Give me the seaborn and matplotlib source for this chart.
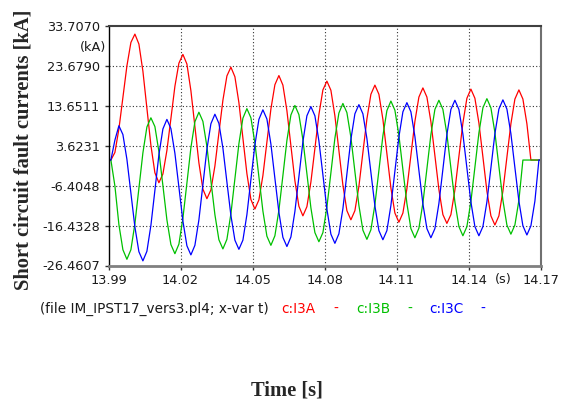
import numpy as np
import pandas as pd
import matplotlib
matplotlib.use("Agg")
import matplotlib.pyplot as plt
import seaborn as sns

# phase currents in kA, one sample every 1/600 s
i3a = [0, 0, 1.9, 7.8, 15.7, 23.6, 29.5, 31.6, 29.1, 22.3, 13.0, 3.7, -3.2, -5.7,
       -3.5, 2.4, 10.4, 18.5, 24.3, 26.5, 24.1, 17.4, 8.4, -0.7, -7.3, -9.7,
       -7.5, -1.5, 6.8, 15.0, 21.1, 23.3, 20.9, 14.4, 5.5, -3.4, -9.9, -12.3,
       -10.0, -3.9, 4.5, 12.8, 18.9, 21.2, 18.8, 12.4, 3.6, -5.2, -11.6, -14.0,
       -11.7, -5.5, 2.9, 11.4, 17.6, 19.8, 17.5, 11.1, 2.4, -6.3, -12.7, -15.0,
       -12.7, -6.6, 1.9, 10.3, 16.5, 18.8, 16.5, 10.2, 1.6, -7.0, -13.3, -15.6,
       -13.3, -7.2, 1.2, 9.7, 15.8, 18.1, 15.8, 9.6, 1.1, -7.4, -13.7, -15.9,
       -13.7, -7.5, 0.9, 9.3, 15.5, 17.8, 15.5, 9.3, 0.8, -7.8, -14.0, -16.3,
       -14.0, -7.8, 0.7, 9.1, 15.3, 17.6, 15.3, 9.1, 0.0, 0, 0, 0]
i3b = [0, 0, -6.5, -16.2, -22.5, -24.9, -22.5, -16.0, -7.1, 1.8, 8.3, 10.6, 8.4, 2.1,
       -6.4, -15.0, -21.2, -23.5, -21.1, -14.6, -5.8, 3.1, 9.6, 12.0, 9.7, 3.4,
       -5.2, -13.7, -20.0, -22.3, -19.9, -13.5, -4.7, 4.1, 10.5, 12.9, 10.6, 4.3,
       -4.2, -12.8, -19.1, -21.4, -19.0, -12.6, -3.9, 4.9, 11.3, 13.7, 11.4, 5.1,
       -3.4, -12.0, -18.2, -20.5, -18.2, -11.8, -3.2, 5.5, 11.8, 14.2, 11.9, 5.7,
       -2.9, -11.4, -17.6, -19.9, -17.5, -11.2, -2.6, 6.1, 12.4, 14.8, 12.5, 6.2,
       -2.4, -10.9, -17.2, -19.5, -17.1, -10.8, -2.2, 6.4, 12.7, 15.0, 12.7, 6.5,
       -2.0, -10.5, -16.7, -19.0, -16.7, -10.4, -1.8, 6.8, 13.1, 15.4, 13.1, 6.9,
       -1.6, -10.1, -16.3, -18.6, -16.3, -10.1, 0.0, 0, 0, 0, 0, 0]
i3c = [0, 0, 5.0, 8.6, 6.4, 0.2, -8.3, -16.8, -23.0, -25.3, -22.9, -16.4, -7.6, 1.3,
       7.8, 10.2, 7.9, 1.7, -6.8, -15.3, -21.5, -23.8, -21.4, -15.0, -6.2, 2.7,
       9.1, 11.5, 9.2, 3.0, -5.5, -13.9, -20.1, -22.4, -20.1, -13.7, -4.9, 3.8,
       10.2, 12.6, 10.3, 4.0, -4.6, -13.1, -19.4, -21.7, -19.3, -12.9, -4.2, 4.6,
       11.1, 13.4, 11.1, 4.8, -3.7, -12.3, -18.6, -20.9, -18.5, -12.2, -3.5, 5.2,
       11.6, 13.9, 11.6, 5.4, -3.1, -11.5, -17.7, -20.0, -17.7, -11.4, -2.8, 5.8,
       12.1, 14.4, 12.1, 5.9, -2.6, -11.0, -17.2, -19.5, -17.2, -10.9, -2.3, 6.4,
       12.7, 15.0, 12.7, 6.5, -2.0, -10.5, -16.7, -19.0, -16.7, -10.5, -2.0, 6.6,
       12.8, 15.1, 12.8, 6.6, -1.9, -10.3, -16.5, -18.8, -16.5, -10.3, 0.0, 0]

t_first = 13.991 - 1 / 600
dt = 1 / 600

signals = ["c:I3A", "c:I3B", "c:I3C"]
colors = ["#ff0000", "#00c000", "#0000ff"]
y_ticks = [33.7070, 23.6790, 13.6511, 3.6231, -6.4048, -16.4328, -26.4607]
x_ticks = [13.99, 14.02, 14.05, 14.08, 14.11, 14.14, 14.17]

t = t_first + dt * np.arange(len(i3a))
df = pd.DataFrame({
    "t": np.tile(t, 3),
    "I": i3a + i3b + i3c,
    "sig": np.repeat(signals, len(t)),
})

sns.set_style("white")
plt.rcParams["font.family"] = ["DejaVu Sans"]

W, H = 568, 403
fig = plt.figure(figsize=(W / 100, H / 100), dpi=100)
ax = fig.add_axes([108.5 / W, 1 - 265.5 / H, 432 / W, 239.8 / H])

sns.lineplot(data=df, x="t", y="I", hue="sig", palette=colors, hue_order=signals,
             estimator=None, sort=False, linewidth=0.9, legend=False, ax=ax)

ax.set_xlim(13.99, 14.17)
ax.set_ylim(y_ticks[-1], y_ticks[0])
ax.set_xticks(x_ticks)
ax.set_xticklabels(["%.2f" % v for v in x_ticks])
ax.set_yticks(y_ticks)
ax.set_yticklabels(["%.4f" % v for v in y_ticks])
ax.set_xlabel("")
ax.set_ylabel("")
ax.tick_params(axis="both", direction="out", length=3, width=1, pad=3,
               labelsize=9.3, labelcolor="#1a1a1a", color="#333333",
               left=True, bottom=True)

for v in x_ticks[1:-1]:
    ax.axvline(v, color="#333333", lw=0.8, ls=(0, (1, 2)), zorder=0)
for v in y_ticks[1:-1]:
    ax.axhline(v, color="#333333", lw=0.8, ls=(0, (1, 2)), zorder=0)

ax.spines["left"].set_color("black")
ax.spines["left"].set_linewidth(1.0)
ax.spines["top"].set_color("#404040")
ax.spines["top"].set_linewidth(1.5)
ax.spines["right"].set_color("#707070")
ax.spines["right"].set_linewidth(1.5)
ax.spines["bottom"].set_color("#808080")
ax.spines["bottom"].set_linewidth(2.0)

fig.text(106 / W, 1 - 48 / H, "(kA)", ha="right", va="center", fontsize=9.3, color="#1a1a1a")
fig.text(503 / W, 1 - 279 / H, "(s)", ha="center", va="center", fontsize=9.3, color="#1a1a1a")

fig.text(24 / W, 1 - 150 / H, "Short circuit fault currents [kA]", rotation=90,
         ha="center", va="center", fontsize=14.8, fontweight="bold",
         family="Liberation Serif")
fig.text(287 / W, 1 - 390 / H, "Time [s]", ha="center", va="center", fontsize=14.8,
         fontweight="bold", family="Liberation Serif")

ly = 1 - 309 / H
fig.text(40 / W, ly, "(file IM_IPST17_vers3.pl4; x-var t)", ha="left", va="center",
         fontsize=9.8, color="#1a1a1a")
for x0, xd, name, c in [(281, 333, "c:I3A", colors[0]), (356, 407, "c:I3B", colors[1]),
                        (429, 480, "c:I3C", colors[2])]:
    fig.text(x0 / W, ly, name, ha="left", va="center", fontsize=9.8, color=c)
    fig.text(xd / W, ly, "-", ha="left", va="center", fontsize=9.8, color=c)

fig.savefig("out.png", dpi=100)
